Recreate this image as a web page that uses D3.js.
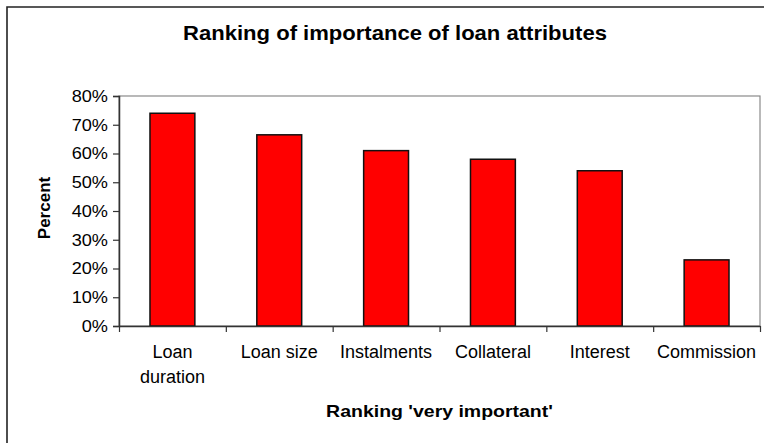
<!DOCTYPE html>
<html>
<head>
<meta charset="utf-8">
<script src="https://cdn.jsdelivr.net/npm/d3@7/dist/d3.min.js"></script>
<style>
  html, body { margin: 0; padding: 0; background: #fff; }
  svg { display: block; font-family: "Liberation Sans", Arial, sans-serif; }
</style>
</head>
<body>
<svg id="chart" width="764" height="443"></svg>
<script>
// Chart data
const categories = ["Loan duration", "Loan size", "Instalments", "Collateral", "Interest", "Commission"];
const categoryLines = [["Loan", "duration"], ["Loan size"], ["Instalments"], ["Collateral"], ["Interest"], ["Commission"]];
const veryImportantPct = [74, 66.5, 61, 58, 54, 23];
const yTicks = [0, 10, 20, 30, 40, 50, 60, 70, 80];
const chartTitle = "Ranking of importance of loan attributes";
const xTitle = "Ranking 'very important'";
const yTitle = "Percent";

const svg = d3.select("#chart");
const plot = { left: 119, right: 760, top: 96, bottom: 326 };

// Stretch a text element horizontally by a factor
function stretch(sel, f) {
  sel.each(function () {
    const L = this.getComputedTextLength();
    this.setAttribute("textLength", (L * f).toFixed(2));
    this.setAttribute("lengthAdjust", "spacingAndGlyphs");
  });
}

svg.append("rect").attr("width", 764).attr("height", 443).attr("fill", "#fff");

// Chart-area frame (left and top edges visible)
svg.append("path")
  .attr("d", "M7,443V7H764")
  .attr("fill", "none").attr("stroke", "#222").attr("stroke-width", 1.6);

const x = d3.scaleBand()
  .domain(categories)
  .range([plot.left, plot.right])
  .paddingInner(0.58)
  .paddingOuter(0.29);

const y = d3.scaleLinear().domain([0, 80]).range([plot.bottom, plot.top]);

// Plot-area border
svg.append("rect")
  .attr("x", plot.left).attr("y", plot.top)
  .attr("width", plot.right - plot.left).attr("height", plot.bottom - plot.top)
  .attr("fill", "none").attr("stroke", "#8a8a8a").attr("stroke-width", 1.2);

// Bars
svg.append("g").selectAll("rect")
  .data(veryImportantPct)
  .join("rect")
  .attr("x", (d, i) => x(categories[i]))
  .attr("y", d => y(d))
  .attr("width", x.bandwidth())
  .attr("height", d => y(0) - y(d))
  .attr("fill", "#ff0000")
  .attr("stroke", "#111")
  .attr("stroke-width", 1.5);

// Y axis
const yAxis = svg.append("g")
  .attr("transform", `translate(${plot.left},0)`)
  .call(d3.axisLeft(y).tickValues(yTicks).tickFormat(d => d + "%").tickSize(6).tickPadding(5));
yAxis.select(".domain").attr("stroke", "#333").attr("stroke-width", 1.5);
yAxis.selectAll(".tick line").attr("stroke", "#333").attr("stroke-width", 1.2);
yAxis.selectAll(".tick text")
  .attr("font-size", 16.5).attr("fill", "#000")
  .attr("font-family", "Liberation Sans, Arial, sans-serif")
  .call(stretch, 1.1);

// X axis: ticks at category boundaries
const bounds = d3.range(categories.length + 1).map(i => plot.left + i * x.step());
const xb = d3.scaleLinear().domain([plot.left, plot.right]).range([plot.left, plot.right]);
const xAxis = svg.append("g")
  .attr("transform", `translate(0,${plot.bottom})`)
  .call(d3.axisBottom(xb).tickValues(bounds).tickFormat("").tickSize(6).tickSizeOuter(0));
xAxis.select(".domain").attr("stroke", "#333").attr("stroke-width", 1.5);
xAxis.selectAll(".tick line").attr("stroke", "#333").attr("stroke-width", 1.2);

// Category labels
const labels = svg.append("g").selectAll("text")
  .data(categories)
  .join("text")
  .attr("x", d => x(d) + x.bandwidth() / 2)
  .attr("y", 358)
  .attr("text-anchor", "middle")
  .attr("font-size", 18)
  .attr("fill", "#000");
labels.each(function (d, i) {
  const t = d3.select(this);
  categoryLines[i].forEach((line, j) => {
    t.append("tspan")
      .attr("x", x(d) + x.bandwidth() / 2)
      .attr("dy", j === 0 ? 0 : 24.7)
      .text(line);
  });
});

// Titles
svg.append("text")
  .attr("x", 395).attr("y", 40)
  .attr("text-anchor", "middle")
  .attr("font-size", 21).attr("font-weight", "bold")
  .text(chartTitle)
  .call(stretch, 1.05);

svg.append("text")
  .attr("x", (plot.left + plot.right) / 2).attr("y", 416.5)
  .attr("text-anchor", "middle")
  .attr("font-size", 16.5).attr("font-weight", "bold")
  .text(xTitle)
  .call(stretch, 1.18);

svg.append("text")
  .attr("transform", "translate(49.5,208) rotate(-90)")
  .attr("text-anchor", "middle")
  .attr("font-size", 17).attr("font-weight", "bold")
  .text(yTitle);
</script>
</body>
</html>
